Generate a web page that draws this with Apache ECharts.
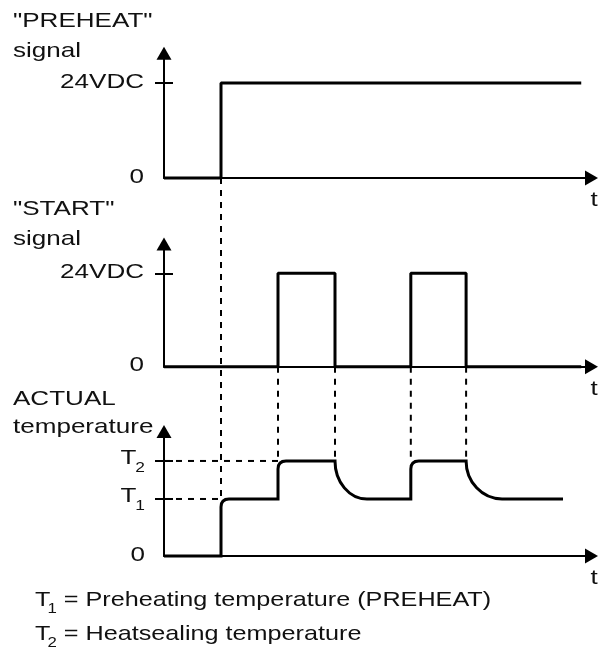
<!DOCTYPE html>
<html>
<head>
<meta charset="utf-8">
<script src="https://cdn.jsdelivr.net/npm/echarts@6/dist/echarts.min.js"></script>
<style>
  html, body { margin: 0; padding: 0; background: #fff; }
  #chart { width: 604px; height: 653px; }
</style>
</head>
<body>
<div id="chart"></div>
<script>
// ---- data ---------------------------------------------------------------
// common time axis (arbitrary units)
const timeMax = 7.5;

// "PREHEAT" signal: level changes (step after each time)
const preheatTimes  = [0, 1, 7.32];
const preheatLevels = [0, 24, 24];

// "START" signal: two pulses
const startTimes  = [0, 2, 3, 4.33, 5.3, 7.32];
const startLevels = [0, 24, 0, 24, 0, 0];

// temperature levels (relative units)
const T1 = 60;
const T2 = 100;

// ACTUAL temperature trace: vertices (rises are vertical, falls cool down)
const tempTimes  = [0, 1, 1, 2, 2, 3, 3.56, 4.33, 4.33, 5.3, 5.93, 7.0];
const tempLevels = [0, 0, T1, T1, T2, T2, T1, T1, T2, T2, T1, T1];

// axis ranges
const signalMax = 31.5;
const tempMax = 131;

// tick labels
const signalTickValues = [0, 24];
const signalTickLabels = ['0', '24VDC'];
const tempTickValues = [0, T1, T2];
const tempTickLabels = [['0', ''], ['T', '1'], ['T', '2']];

// panel captions, axis name and footnotes
const panelTitles = [['"PREHEAT"', 'signal'], ['"START"', 'signal'], ['ACTUAL', 'temperature']];
const timeAxisName = 't';
const footnotes = [['T', '1', ' = Preheating temperature (PREHEAT)'],
                   ['T', '2', ' = Heatsealing temperature']];

// ---- styling helpers ----------------------------------------------------
const FONT = '"Liberation Sans", Arial, Helvetica, sans-serif';
const SX = 1.24;          // horizontal stretch of the lettering
const BIG = 21, SMALL = 14;
const BLACK = '#000';
const DASH = [6, 6];

const measureCtx = document.createElement('canvas').getContext('2d');
function textWidth(s, size) {
  measureCtx.font = size + 'px ' + FONT;
  return measureCtx.measureText(s).width;
}
function textEl(s, x, y, size, align, sx) {
  align = align || 'left';
  return {
    type: 'text', x: x, y: y, scaleX: sx || SX, silent: true, z: 10,
    style: {
      text: s, font: size + 'px ' + FONT, fill: '#111',
      align: align, verticalAlign: 'middle',
      textAlign: align, textVerticalAlign: 'middle'
    }
  };
}
function dashEl(x1, y1, x2, y2) {
  return {
    type: 'line', silent: true, z: 1,
    shape: { x1: x1, y1: y1, x2: x2, y2: y2 },
    style: { stroke: BLACK, lineWidth: 2, lineDash: DASH }
  };
}

// ---- layout -------------------------------------------------------------
const grids = [
  { left: 164, right: 12.5, top: 53.3, height: 124.7 },
  { left: 164, right: 12.5, top: 244.1, height: 122.6 },
  { left: 164, right: 12.5, top: 431.5, height: 124.5 }
];

const arrowLine = {
  show: true,
  symbol: ['none', 'triangle'],
  symbolSize: [15, 13],
  lineStyle: { color: BLACK, width: 2 }
};

function xAxisFor(g) {
  return {
    type: 'value', gridIndex: g, min: 0, max: timeMax, position: 'bottom',
    axisLine: arrowLine,
    axisTick: { show: false }, axisLabel: { show: false }, splitLine: { show: false }
  };
}
// each panel gets an outer and an inner y axis so the tick marks cross the axis line
function yAxesFor(g, max, ticks) {
  return [
    {
      type: 'value', gridIndex: g, min: 0, max: max, position: 'left',
      axisLine: arrowLine,
      axisTick: { show: true, length: 9, customValues: ticks, lineStyle: { color: BLACK, width: 2 } },
      axisLabel: { show: false }, splitLine: { show: false }
    },
    {
      type: 'value', gridIndex: g, min: 0, max: max, position: 'left', offset: 0,
      axisLine: { show: false },
      axisTick: { show: true, inside: true, length: 9, customValues: ticks, lineStyle: { color: BLACK, width: 2 } },
      axisLabel: { show: false }, splitLine: { show: false }
    }
  ];
}

const zip = (xs, ys) => xs.map((x, i) => [x, ys[i]]);
const CORNER = 8;

// temperature trace: whole path drawn once, corners rounded, cooling as quarter ellipse
function renderTemperature(params, api) {
  if (params.dataIndex !== 0) return null;
  const pts = tempTimes.map((t, i) => api.coord([t, tempLevels[i]]));
  let d = 'M' + pts[0][0] + ' ' + pts[0][1];
  let cx = pts[0][0];
  for (let i = 1; i < pts.length; i++) {
    const a = pts[i - 1], b = pts[i];
    if (tempTimes[i] === tempTimes[i - 1]) {
      if (tempLevels[i] > tempLevels[i - 1]) {
        d += ' L' + b[0] + ' ' + (b[1] + CORNER) + ' Q' + b[0] + ' ' + b[1] + ' ' + (b[0] + CORNER) + ' ' + b[1];
        cx = b[0] + CORNER;
      } else {
        d += ' L' + b[0] + ' ' + b[1];
        cx = b[0];
      }
    } else if (tempLevels[i] < tempLevels[i - 1]) {
      const k = 0.5523;
      d += ' C' + cx + ' ' + (a[1] + k * (b[1] - a[1])) + ' ' +
           (b[0] - k * (b[0] - cx)) + ' ' + b[1] + ' ' + b[0] + ' ' + b[1];
      cx = b[0];
    } else {
      d += ' L' + b[0] + ' ' + b[1];
      cx = b[0];
    }
  }
  return {
    type: 'path',
    shape: { pathData: d },
    style: { fill: 'none', stroke: BLACK, lineWidth: 3, lineJoin: 'miter' }
  };
}

const chart = echarts.init(document.getElementById('chart'), null, { renderer: 'canvas' });

chart.setOption({
  backgroundColor: '#fff',
  animation: false,
  grid: grids,
  xAxis: [xAxisFor(0), xAxisFor(1), xAxisFor(2)],
  yAxis: [].concat(
    yAxesFor(0, signalMax, signalTickValues.filter(v => v !== 0)),
    yAxesFor(1, signalMax, signalTickValues.filter(v => v !== 0)),
    yAxesFor(2, tempMax, tempTickValues.filter(v => v !== 0))
  ),
  series: [
    {
      name: 'PREHEAT', type: 'line', xAxisIndex: 0, yAxisIndex: 0,
      step: 'end', symbol: 'none', clip: false, z: 5,
      lineStyle: { color: BLACK, width: 3 },
      data: zip(preheatTimes, preheatLevels)
    },
    {
      name: 'START', type: 'line', xAxisIndex: 1, yAxisIndex: 2,
      step: 'end', symbol: 'none', clip: false, z: 5,
      lineStyle: { color: BLACK, width: 3 },
      data: zip(startTimes, startLevels)
    },
    {
      name: 'ACTUAL temperature', type: 'custom', xAxisIndex: 2, yAxisIndex: 4,
      z: 5, renderItem: renderTemperature,
      data: zip(tempTimes, tempLevels)
    }
  ]
});

// ---- guide lines and lettering, positioned from the axes' scales --------
const px = (g, t, v) => chart.convertToPixel({ gridIndex: g }, [t, v]);
const els = [];

// vertical guides: PREHEAT edge down to T1, START edges down to T2
const preheatEdges = preheatTimes.filter((t, i) => i > 0 && preheatLevels[i] !== preheatLevels[i - 1]);
const startEdges = startTimes.filter((t, i) => i > 0 && startLevels[i] !== startLevels[i - 1]);
preheatEdges.forEach(t => {
  const p = px(0, t, 0), q = px(2, t, T1);
  els.push(dashEl(p[0], p[1], q[0], q[1]));
});
startEdges.forEach(t => {
  const p = px(1, t, 0), q = px(2, t, T2);
  els.push(dashEl(p[0], p[1], q[0], q[1]));
});
// horizontal guides from the temperature axis
[[T1, preheatEdges[0]], [T2, startEdges[0]]].forEach(([v, t]) => {
  const p = px(2, 0, v), q = px(2, t, v);
  els.push(dashEl(p[0], p[1], q[0], q[1]));
});

// panel captions
const captionRows = [[21, 51], [209, 239], [399, 427.5]];
panelTitles.forEach((lines, g) => {
  lines.forEach((s, j) => els.push(textEl(s, 13, captionRows[g][j], BIG, 'left')));
});

// y tick labels
const LABEL_GAP = 20;
[0, 1].forEach(g => {
  signalTickValues.forEach((v, i) => {
    const p = px(g, 0, v);
    els.push(textEl(signalTickLabels[i], p[0] - LABEL_GAP, p[1] - 1, BIG, 'right'));
  });
});
tempTickValues.forEach((v, i) => {
  const p = px(2, 0, v);
  const [main, sub] = tempTickLabels[i];
  if (!sub) {
    els.push(textEl(main, p[0] - LABEL_GAP + 1, p[1] - 1, BIG, 'right'));
  } else {
    const right = p[0] - LABEL_GAP + 1;
    els.push(textEl(sub, right, p[1] + 7, SMALL, 'right'));
    els.push(textEl(main, right - textWidth(sub, SMALL) * SX + 1, p[1] - 2.5, BIG, 'right'));
  }
});

// time axis names
[0, 1, 2].forEach(g => {
  const p = px(g, timeMax, 0);
  els.push(textEl(timeAxisName, p[0] + 2.5, p[1] + 22.5, BIG, 'center'));
});

// footnotes
const FOOT_SX = 1.2;
const footRows = [600.5, 634.5];
footnotes.forEach(([main, sub, rest], i) => {
  const x0 = 35, y = footRows[i];
  els.push(textEl(main, x0, y, BIG, 'left', FOOT_SX));
  const xs = x0 + textWidth(main, BIG) * FOOT_SX - 3;
  els.push(textEl(sub, xs, y + 9, SMALL, 'left', FOOT_SX));
  const xr = xs + textWidth(sub, SMALL) * FOOT_SX;
  els.push(textEl(rest, xr, y, BIG, 'left', FOOT_SX));
});

chart.setOption({ graphic: { elements: els } });
</script>
</body>
</html>
